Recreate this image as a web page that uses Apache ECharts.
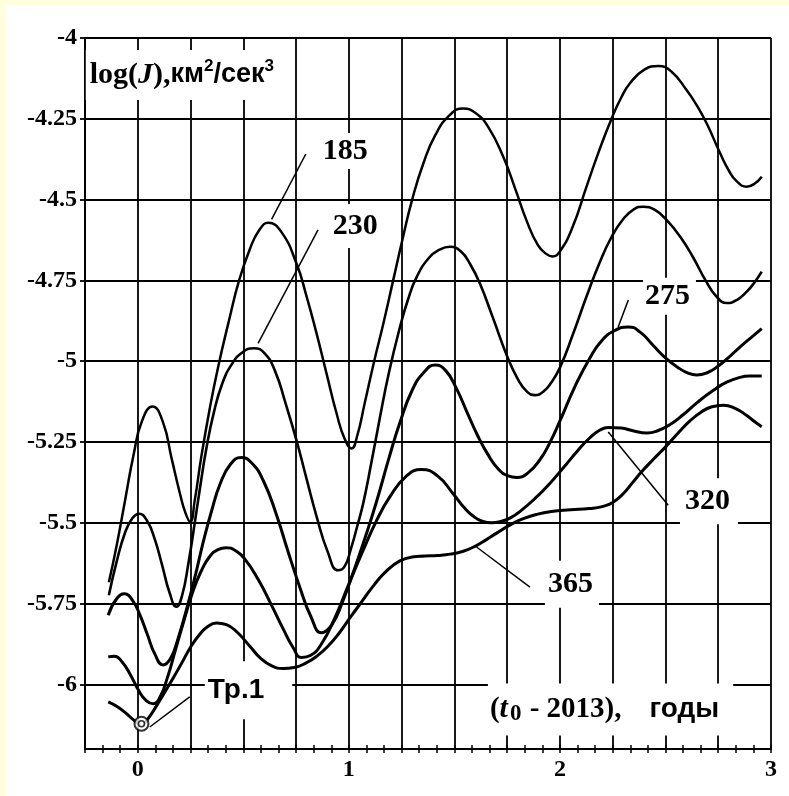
<!DOCTYPE html>
<html><head><meta charset="utf-8">
<script src="https://cdn.jsdelivr.net/npm/echarts@6/dist/echarts.min.js"></script>
<style>
html,body{margin:0;padding:0;background:#FFFFE0;width:789px;height:796px;overflow:hidden;}
#bg{position:absolute;left:6px;top:5px;width:783px;height:791px;background:#fff;}
#chart{position:absolute;left:0;top:0;width:789px;height:796px;}
</style></head><body>
<div id="bg"></div><div id="chart"></div>
<script>
// ---- data: [t0-2013 (years), log(J)] ----
const curve185 = [[-0.137,-5.684],[-0.10,-5.57],[-0.06,-5.43],[-0.02,-5.29],[0.02,-5.185],[0.07,-5.14],[0.12,-5.19],[0.16,-5.30],[0.20,-5.41],[0.225,-5.468],[0.248,-5.497],[0.27,-5.43],[0.30,-5.30],[0.34,-5.15],[0.38,-5.02],[0.43,-4.88],[0.48,-4.75],[0.53,-4.655],[0.575,-4.595],[0.618,-4.572],[0.68,-4.60],[0.752,-4.698],[0.80,-4.80],[0.847,-4.914],[0.895,-5.04],[0.942,-5.162],[0.98,-5.24],[1.013,-5.27],[1.04,-5.23],[1.075,-5.13],[1.12,-5.0],[1.163,-4.885],[1.21,-4.75],[1.257,-4.615],[1.30,-4.50],[1.352,-4.39],[1.41,-4.30],[1.479,-4.238],[1.542,-4.218],[1.60,-4.232],[1.66,-4.275],[1.731,-4.367],[1.79,-4.47],[1.842,-4.565],[1.895,-4.64],[1.935,-4.668],[1.965,-4.676],[2.0,-4.66],[2.06,-4.585],[2.126,-4.46],[2.185,-4.35],[2.245,-4.249],[2.29,-4.185],[2.332,-4.14],[2.40,-4.098],[2.466,-4.087],[2.53,-4.105],[2.6,-4.161],[2.65,-4.21],[2.695,-4.264],[2.758,-4.355],[2.80,-4.41],[2.837,-4.443],[2.885,-4.46],[2.92,-4.452],[2.956,-4.429]];
const curve230 = [[-0.137,-5.724],[-0.10,-5.62],[-0.06,-5.53],[-0.025,-5.485],[0.006,-5.472],[0.045,-5.495],[0.08,-5.55],[0.115,-5.63],[0.15,-5.715],[0.183,-5.76],[0.21,-5.725],[0.24,-5.625],[0.27,-5.5],[0.30,-5.37],[0.325,-5.27],[0.36,-5.16],[0.40,-5.07],[0.445,-5.01],[0.495,-4.973],[0.55,-4.96],[0.60,-4.975],[0.65,-5.03],[0.70,-5.13],[0.752,-5.245],[0.80,-5.365],[0.847,-5.48],[0.90,-5.59],[0.949,-5.647],[0.98,-5.635],[1.01,-5.58],[1.04,-5.51],[1.068,-5.44],[1.105,-5.32],[1.147,-5.175],[1.19,-5.035],[1.242,-4.895],[1.28,-4.81],[1.321,-4.74],[1.38,-4.68],[1.43,-4.655],[1.479,-4.646],[1.53,-4.66],[1.575,-4.70],[1.621,-4.76],[1.685,-4.87],[1.747,-4.98],[1.80,-5.055],[1.845,-5.095],[1.882,-5.105],[1.92,-5.095],[1.96,-5.065],[2.0,-5.02],[2.06,-4.92],[2.126,-4.80],[2.185,-4.70],[2.245,-4.615],[2.30,-4.56],[2.35,-4.53],[2.395,-4.522],[2.45,-4.532],[2.505,-4.563],[2.57,-4.615],[2.632,-4.68],[2.69,-4.75],[2.742,-4.8],[2.79,-4.82],[2.84,-4.81],[2.885,-4.785],[2.92,-4.758],[2.956,-4.723]];
const curve275 = [[-0.14,-5.786],[-0.10,-5.735],[-0.062,-5.72],[-0.025,-5.74],[0.01,-5.785],[0.045,-5.845],[0.08,-5.905],[0.12,-5.94],[0.155,-5.92],[0.19,-5.86],[0.23,-5.77],[0.27,-5.67],[0.31,-5.56],[0.349,-5.465],[0.39,-5.38],[0.44,-5.318],[0.49,-5.298],[0.54,-5.315],[0.595,-5.37],[0.657,-5.475],[0.71,-5.585],[0.768,-5.70],[0.82,-5.79],[0.87,-5.84],[0.92,-5.815],[0.97,-5.745],[1.02,-5.655],[1.075,-5.55],[1.131,-5.435],[1.19,-5.30],[1.242,-5.19],[1.30,-5.09],[1.355,-5.035],[1.408,-5.012],[1.46,-5.03],[1.51,-5.085],[1.558,-5.155],[1.61,-5.23],[1.66,-5.29],[1.71,-5.335],[1.755,-5.355],[1.795,-5.36],[1.85,-5.345],[1.905,-5.305],[1.95,-5.255],[2.0,-5.185],[2.07,-5.08],[2.142,-4.99],[2.20,-4.935],[2.26,-4.905],[2.324,-4.894],[2.38,-4.91],[2.44,-4.95],[2.50,-4.99],[2.56,-5.02],[2.61,-5.038],[2.648,-5.043],[2.70,-5.035],[2.75,-5.015],[2.80,-4.988],[2.85,-4.958],[2.90,-4.93],[2.956,-4.899]];
const curve320 = [[-0.14,-5.915],[-0.11,-5.913],[-0.075,-5.93],[-0.035,-5.97],[0.005,-6.02],[0.04,-6.05],[0.073,-6.06],[0.105,-6.04],[0.14,-5.98],[0.18,-5.89],[0.22,-5.80],[0.26,-5.715],[0.30,-5.65],[0.34,-5.605],[0.38,-5.583],[0.42,-5.577],[0.46,-5.585],[0.51,-5.615],[0.57,-5.675],[0.63,-5.75],[0.69,-5.83],[0.735,-5.885],[0.776,-5.917],[0.82,-5.91],[0.87,-5.875],[0.93,-5.80],[1.0,-5.69],[1.068,-5.585],[1.13,-5.495],[1.194,-5.42],[1.27,-5.357],[1.344,-5.335],[1.42,-5.355],[1.494,-5.41],[1.545,-5.452],[1.59,-5.48],[1.635,-5.496],[1.676,-5.5],[1.72,-5.496],[1.765,-5.485],[1.82,-5.46],[1.89,-5.42],[1.95,-5.38],[2.016,-5.33],[2.08,-5.28],[2.142,-5.237],[2.19,-5.213],[2.229,-5.205],[2.29,-5.207],[2.35,-5.216],[2.411,-5.222],[2.46,-5.216],[2.52,-5.197],[2.585,-5.165],[2.65,-5.128],[2.727,-5.09],[2.79,-5.065],[2.853,-5.05],[2.90,-5.046],[2.956,-5.046]];
const curve365 = [[-0.14,-6.054],[-0.1,-6.068],[-0.055,-6.09],[-0.02,-6.11],[0.017,-6.125],[0.05,-6.105],[0.09,-6.065],[0.13,-6.022],[0.17,-5.978],[0.21,-5.932],[0.25,-5.885],[0.29,-5.848],[0.33,-5.822],[0.373,-5.81],[0.42,-5.815],[0.47,-5.838],[0.531,-5.882],[0.58,-5.918],[0.635,-5.943],[0.689,-5.951],[0.74,-5.948],[0.80,-5.933],[0.85,-5.912],[0.90,-5.883],[0.95,-5.845],[1.01,-5.79],[1.068,-5.738],[1.12,-5.692],[1.18,-5.648],[1.242,-5.618],[1.30,-5.606],[1.36,-5.603],[1.42,-5.601],[1.48,-5.597],[1.542,-5.588],[1.60,-5.572],[1.65,-5.553],[1.70,-5.532],[1.76,-5.508],[1.82,-5.489],[1.89,-5.474],[1.96,-5.465],[2.05,-5.46],[2.14,-5.456],[2.20,-5.45],[2.25,-5.437],[2.30,-5.41],[2.345,-5.375],[2.39,-5.34],[2.445,-5.302],[2.505,-5.262],[2.56,-5.222],[2.616,-5.185],[2.67,-5.157],[2.72,-5.141],[2.774,-5.136],[2.83,-5.146],[2.885,-5.168],[2.92,-5.186],[2.956,-5.203]];
const curveNames = ['185','230','275','320','365'];
const pointTr1 = [0.0175,-6.122];
const yTickValues = [-6,-5.75,-5.5,-5.25,-5,-4.75,-4.5,-4.25,-4];
const xLabelValues = [0,1,2,3];

// ---- annotation anchors (data units) ----
const leaders = [
  [[0.796,-4.359],[0.634,-4.561]],
  [[0.854,-4.594],[0.570,-4.945]],
  [[2.324,-4.811],[2.276,-4.894]],
  [[2.229,-5.219],[2.513,-5.446]],
  [[1.605,-5.575],[1.858,-5.699]],
  [[0.057,-6.132],[0.246,-6.039]]
];
const labelAnchors = [[0.8531,-4.3498],[0.9005,-4.582],[2.3934,-4.7988],[2.5687,-5.4334],[1.9289,-5.6904]];
const labelPads = [[3,6,3,5],[9,6,5,5],[2,6,5,2],[8,8,8,5],[6,6,11,3]];
const trAnchor = [0.3175,-6.0186];
const titleAnchor = [-0.2464,-4.1146];
const xNameAnchor = [1.6588,-6.0774];

const SERIF = '"Liberation Serif","Times New Roman",serif';
const SANS = '"Liberation Sans",Arial,sans-serif';
const widths = [2.5,2.6,3,3,3];
const curves = [curve185,curve230,curve275,curve320,curve365];

const chart = echarts.init(document.getElementById('chart'), null, {renderer:'canvas'});
const series = curves.map((c,i)=>({
  name: curveNames[i], type:'line', data:c, showSymbol:false, smooth:0.5,
  lineStyle:{color:'#000', width:widths[i]}, z:3, silent:true
}));
series.push({
  type:'line', data:[], silent:true, z:1,
  markLine:{z:1, silent:true, symbol:['none','none'], label:{show:false},
    lineStyle:{color:'#000', width:1.8, type:'solid'},
    data: yTickValues.map(v=>({yAxis:v})), animation:false}
});
series.push({
  type:'scatter', silent:true, z:6,
  data:[{value:pointTr1, symbolSize:14, itemStyle:{color:'#fff', borderColor:'#000', borderWidth:2}},
        {value:pointTr1, symbolSize:6, itemStyle:{color:'#fff', borderColor:'#000', borderWidth:1.6}}]
});

const option = {
  animation:false,
  grid:{left:85, right:18, top:38, bottom:47},
  xAxis:[{
    type:'value', min:-0.25, max:3, interval:0.25,
    axisLine:{onZero:false, lineStyle:{color:'#000', width:2}},
    axisTick:{show:true, length:4, lineStyle:{color:'#000', width:1.5}},
    minorTick:{show:true, splitNumber:3, length:4, lineStyle:{color:'#000', width:1.5}},
    splitLine:{show:true, lineStyle:{color:'#000', width:1.8}},
    axisLabel:{margin:9, color:'#000', fontFamily:SERIF, fontWeight:'bold', fontSize:24,
      formatter:(v)=> xLabelValues.some(t=>Math.abs(t-v)<1e-6) ? String(Math.round(v)) : ''}
  },{
    type:'value', min:-0.25, max:3, interval:0.25, position:'bottom',
    axisLine:{show:false, onZero:false},
    axisTick:{show:true, inside:true, length:4, lineStyle:{color:'#000', width:1.5}},
    minorTick:{show:true, splitNumber:3, length:4, lineStyle:{color:'#000', width:1.5}},
    splitLine:{show:false}, axisLabel:{show:false}
  }],
  yAxis:{
    type:'value', min:-6.2, max:-4,
    axisLine:{onZero:false, lineStyle:{color:'#000', width:2}},
    axisTick:{show:true, length:5, customValues:yTickValues, lineStyle:{color:'#000', width:1.8}},
    splitLine:{show:false},
    axisLabel:{customValues:yTickValues, margin:8, color:'#000', fontFamily:SERIF, fontWeight:'bold', fontSize:24,
      formatter:(v)=>String(v)}
  },
  series
};
chart.setOption(option);

const P = (pt)=>chart.convertToPixel({xAxisIndex:0, yAxisIndex:0}, pt);
const graphic = [];
leaders.forEach(l=>{
  const a=P(l[0]), b=P(l[1]);
  graphic.push({type:'line', z:2.7, silent:true, shape:{x1:a[0],y1:a[1],x2:b[0],y2:b[1]}, style:{stroke:'#000', lineWidth:1.5}});
});
labelAnchors.forEach((pt,i)=>{
  const p=P(pt);
  graphic.push({type:'text', z:2.5, silent:true, x:p[0], y:p[1], style:{
    text:curveNames[i], fill:'#000', font:'bold 30px '+SERIF, align:'left', verticalAlign:'middle',
    backgroundColor:'#fff', padding:labelPads[i]}});
});
{
  const p=P(trAnchor);
  graphic.push({type:'text', z:2.5, silent:true, x:p[0], y:p[1], style:{
    text:'Тр.1', fill:'#000', font:'bold 28px '+SANS, align:'left', verticalAlign:'middle',
    backgroundColor:'#fff', padding:[4,28,26,3]}});
}
{
  const p=P(titleAnchor);
  graphic.push({type:'text', z:2.5, silent:true, x:p[0], y:p[1], style:{
    text:'{s|log(}{i|J}{s|),}{a|км}{p|2}{a|/сек}{p|3}', align:'left', verticalAlign:'middle',
    backgroundColor:'#fff', padding:[8,10,8,4],
    rich:{
      s:{fontFamily:SERIF, fontWeight:'bold', fontSize:30, fill:'#000', lineHeight:34},
      i:{fontFamily:SERIF, fontWeight:'bold', fontStyle:'italic', fontSize:30, fill:'#000', lineHeight:34},
      a:{fontFamily:SANS, fontWeight:'bold', fontSize:27, fill:'#000', lineHeight:34},
      p:{fontFamily:SANS, fontWeight:'bold', fontSize:17, fill:'#000', lineHeight:22, verticalAlign:'top'}
    }}});
}
{
  const p=P(xNameAnchor);
  graphic.push({type:'text', z:2.5, silent:true, x:p[0], y:p[1], style:{
    text:'{s|(}{i|t}{b|0}{s| - 2013),}{a|годы}', align:'left', verticalAlign:'middle',
    backgroundColor:'#fff', padding:[10,14,10,2],
    rich:{
      s:{fontFamily:SERIF, fontWeight:'bold', fontSize:29, fill:'#000', lineHeight:32},
      i:{fontFamily:SERIF, fontWeight:'bold', fontStyle:'italic', fontSize:30, fill:'#000', lineHeight:32},
      b:{fontFamily:SERIF, fontWeight:'bold', fontSize:23, fill:'#000', lineHeight:8, verticalAlign:'bottom', padding:[0,1,0,2]},
      a:{fontFamily:SANS, fontWeight:'bold', fontSize:28, fill:'#000', lineHeight:32, padding:[0,0,0,28]}
    }}});
}
chart.setOption({graphic});
</script>
</body></html>
